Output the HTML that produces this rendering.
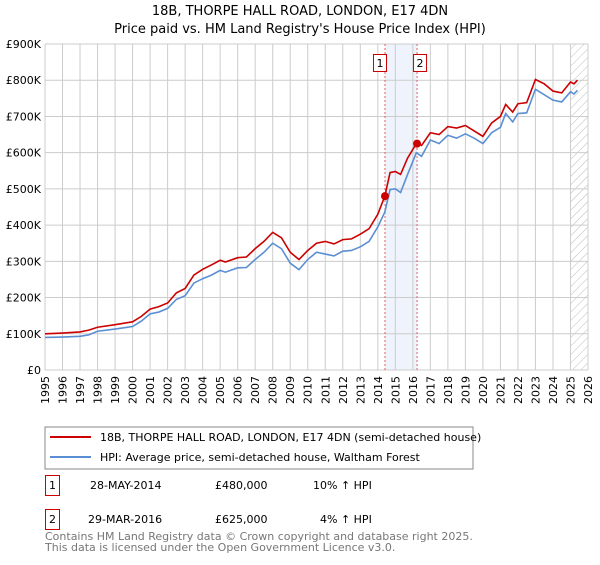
<!DOCTYPE html>
<html><head><meta charset="utf-8"><style>
body{margin:0;background:#fff;font-family:"Liberation Sans","DejaVu Sans",sans-serif;}
svg text{font-family:"DejaVu Sans","Liberation Sans",sans-serif;}
</style></head><body>
<svg id="c" width="600" height="560" xmlns="http://www.w3.org/2000/svg">
<defs><pattern id="hatch" width="6" height="6" patternUnits="userSpaceOnUse" patternTransform="rotate(45)"><line x1="0" y1="0" x2="0" y2="6" stroke="#bbb" stroke-width="1"/></pattern></defs>
<text x="300" y="15" text-anchor="middle" font-size="13">18B, THORPE HALL ROAD, LONDON, E17 4DN</text>
<text x="300" y="33" text-anchor="middle" font-size="13">Price paid vs. HM Land Registry's House Price Index (HPI)</text>
<g id="grid"></g><g id="plot"></g>
<rect x="45" y="427" width="428" height="42" fill="#fff" stroke="#888"/>
<line x1="50" y1="437" x2="91" y2="437" stroke="#cc0000" stroke-width="2"/>
<text x="100" y="441" font-size="11">18B, THORPE HALL ROAD, LONDON, E17 4DN (semi-detached house)</text>
<line x1="50" y1="457" x2="91" y2="457" stroke="#5b8fd4" stroke-width="2"/>
<text x="100" y="461" font-size="11">HPI: Average price, semi-detached house, Waltham Forest</text>
<g>
<rect x="45.5" y="475.5" width="14" height="20" fill="none" stroke="#cc0000"/>
<text x="52.5" y="489" font-size="11" text-anchor="middle">1</text>
<text x="90" y="489" font-size="11">28-MAY-2014</text>
<text x="215" y="489" font-size="11">£480,000</text>
<text x="313" y="489" font-size="11">10% ↑ HPI</text></g>
<g>
<rect x="45.5" y="509.5" width="14" height="20" fill="none" stroke="#cc0000"/>
<text x="52.5" y="523" font-size="11" text-anchor="middle">2</text>
<text x="88" y="523" font-size="11">29-MAR-2016</text>
<text x="215" y="523" font-size="11">£625,000</text>
<text x="320" y="523" font-size="11">4% ↑ HPI</text></g>
<text x="45" y="540" font-size="11" fill="#777">Contains HM Land Registry data © Crown copyright and database right 2025.</text>
<text x="45" y="551" font-size="11" fill="#777">This data is licensed under the Open Government Licence v3.0.</text>
</svg>
<script>
const years=[1995,1996,1997,1997.5,1998,1999,2000,2000.5,2001,2001.5,2002,2002.5,2003,2003.5,2004,2004.5,2005,2005.3,2006,2006.5,2007,2007.5,2008,2008.5,2009,2009.5,2010,2010.5,2011,2011.5,2012,2012.5,2013,2013.5,2014,2014.4,2014.7,2015,2015.3,2015.7,2016.2,2016.5,2017,2017.5,2018,2018.5,2019,2019.5,2020,2020.5,2021,2021.3,2021.7,2022,2022.5,2023,2023.5,2024,2024.5,2025,2025.2,2025.4];
const priceK=[100,102,105,110,118,125,133,148,168,175,185,213,225,262,278,290,303,298,310,312,335,355,380,365,325,305,330,350,355,348,360,362,375,390,430,480,545,548,540,585,625,620,655,650,672,668,675,660,645,682,700,733,712,735,738,802,790,770,765,795,790,800];
const hpiK=[90,91,93,97,107,113,120,135,155,160,170,195,205,240,252,262,275,270,282,283,305,325,350,335,295,277,305,325,320,315,328,330,340,355,395,436,498,500,490,540,600,590,635,625,648,640,652,640,625,655,670,708,685,708,710,775,760,745,740,768,762,772];
const saleYears=[2014.41,2016.24];
const saleK=[480,625];
const yTicks=[0,100,200,300,400,500,600,700,800,900];
const xTicks=[];for(let y=1995;y<=2026;y++)xTicks.push(y);
const NS="http://www.w3.org/2000/svg";
const X=y=>45+(y-1995)*(543/31);
const Y=v=>370-v*(326/900);
const grid=document.getElementById('grid'),plot=document.getElementById('plot');
function mk(tag,attrs,parent){const e=document.createElementNS(NS,tag);for(const k in attrs)e.setAttribute(k,attrs[k]);parent.appendChild(e);return e;}
mk('rect',{x:X(2014.41),y:Y(900),width:X(2016.24)-X(2014.41),height:Y(0)-Y(900),fill:'#eef3fc'},grid);
mk('rect',{x:X(2025),y:Y(900),width:X(2026)-X(2025),height:Y(0)-Y(900),fill:'url(#hatch)'},grid);
xTicks.forEach(t=>{const l=mk('line',{x1:X(t),x2:X(t),y1:Y(0),y2:Y(900),stroke:'#ccc'},grid);


const tx=mk('text',{x:X(t)+4,y:Y(0)+6,'font-size':11,transform:`rotate(-90 ${X(t)+4} ${Y(0)+6})`,'text-anchor':'end'},grid);tx.textContent=t;

});
yTicks.forEach(t=>{const l=mk('line',{x1:X(1995),x2:X(2026),y1:Y(t),y2:Y(t),stroke:'#ccc'},grid);


const tx=mk('text',{x:41,y:Y(t)+4,'font-size':11,'text-anchor':'end'},grid);tx.textContent=t===0?'£0':'£'+t+'K';

});
saleYears.forEach((s,i)=>{const l=mk('line',{x1:X(s),x2:X(s),y1:Y(0),y2:Y(900),stroke:'#e06060','stroke-dasharray':'2,2'},plot);


const bx=X(s)-(i===0?11:3);
const r=mk('rect',{x:bx-0.5,y:54.5,width:13,height:17,fill:'#fff',stroke:'#cc0000'},plot);


const t=mk('text',{x:bx+6,y:67,'font-size':11,'text-anchor':'middle'},plot);t.textContent=i+1;

});
const hp=mk('polyline',{points:years.map((y,i)=>X(y)+','+Y(hpiK[i])).join(' '),fill:'none',stroke:'#5b8fd4','stroke-width':1.6},plot);


const pp=mk('polyline',{points:years.map((y,i)=>X(y)+','+Y(priceK[i])).join(' '),fill:'none',stroke:'#cc0000','stroke-width':1.6},plot);


saleYears.forEach((s,i)=>{const c=mk('circle',{cx:X(s),cy:Y(saleK[i]),r:4,fill:'#cc0000'},plot);

});
</script>
</body></html>
